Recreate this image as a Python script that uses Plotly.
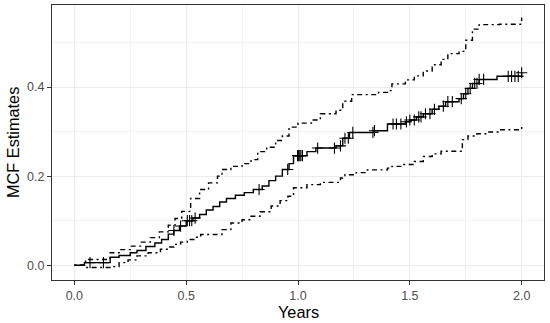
import numpy as np
import plotly.graph_objects as go

# MCF estimate (step function: value from each time onward)
mean_t = [0, 0.045, 0.16, 0.2, 0.25, 0.28, 0.32, 0.36, 0.39, 0.42, 0.445, 0.47, 0.5, 0.53,
          0.56, 0.59, 0.62, 0.65, 0.68, 0.72, 0.76, 0.8, 0.84, 0.87, 0.9, 0.93, 0.96, 0.98,
          1.04, 1.08, 1.17, 1.2, 1.23, 1.34, 1.4, 1.48, 1.5, 1.53, 1.56, 1.6, 1.63, 1.66,
          1.72, 1.74, 1.76, 1.78, 1.81, 1.89, 2.0]
mean_y = [0, 0.006, 0.018, 0.022, 0.028, 0.033, 0.042, 0.05, 0.058, 0.07, 0.078, 0.088, 0.1,
          0.106, 0.114, 0.124, 0.132, 0.142, 0.15, 0.157, 0.163, 0.17, 0.178, 0.19, 0.2, 0.215,
          0.228, 0.246, 0.255, 0.263, 0.268, 0.285, 0.298, 0.302, 0.317, 0.322, 0.326, 0.333,
          0.34, 0.35, 0.357, 0.367, 0.374, 0.385, 0.397, 0.408, 0.417, 0.424, 0.432]

# Upper confidence bound
upper_t = [0, 0.05, 0.16, 0.2, 0.25, 0.3, 0.34, 0.38, 0.42, 0.45, 0.48, 0.52, 0.56, 0.6, 0.64,
           0.66, 0.7, 0.75, 0.79, 0.82, 0.86, 0.9, 0.93, 0.96, 1.0, 1.06, 1.1, 1.17, 1.2, 1.24,
           1.36, 1.4, 1.42, 1.48, 1.52, 1.56, 1.6, 1.64, 1.67, 1.72, 1.75, 1.78, 1.81, 1.9, 2.0]
upper_y = [0, 0.013, 0.028, 0.035, 0.043, 0.052, 0.062, 0.075, 0.09, 0.105, 0.121, 0.15, 0.17,
           0.185, 0.2, 0.215, 0.222, 0.228, 0.237, 0.255, 0.265, 0.28, 0.29, 0.31, 0.319, 0.326,
           0.34, 0.348, 0.368, 0.383, 0.388, 0.392, 0.407, 0.416, 0.425, 0.436, 0.45, 0.462,
           0.475, 0.48, 0.505, 0.53, 0.54, 0.541, 0.556]

# Lower confidence bound
lower_t = [0, 0.05, 0.17, 0.2, 0.24, 0.28, 0.33, 0.385, 0.42, 0.445, 0.475, 0.505, 0.54, 0.565,
           0.66, 0.7, 0.75, 0.79, 0.83, 0.88, 0.92, 0.955, 0.98, 1.04, 1.1, 1.19, 1.21, 1.26,
           1.31, 1.4, 1.42, 1.47, 1.52, 1.56, 1.6, 1.64, 1.735, 1.76, 1.8, 1.84, 1.9, 2.0]
lower_y = [0, -0.005, -0.003, 0.006, 0.012, 0.021, 0.028, 0.036, 0.041, 0.047, 0.052, 0.058,
           0.063, 0.069, 0.08, 0.095, 0.102, 0.11, 0.12, 0.133, 0.145, 0.155, 0.174, 0.181,
           0.186, 0.196, 0.203, 0.208, 0.214, 0.218, 0.222, 0.226, 0.233, 0.244, 0.25, 0.256,
           0.282, 0.29, 0.295, 0.299, 0.304, 0.315]

# Censoring times (marked with +)
censor_t = [0.07, 0.13, 0.445, 0.475, 0.505, 0.515, 0.525, 0.54, 0.826, 0.954, 0.998, 1.003,
            1.008, 1.013, 1.02, 1.088, 1.163, 1.19, 1.21, 1.225, 1.245, 1.335, 1.342, 1.425,
            1.44, 1.46, 1.485, 1.5, 1.52, 1.54, 1.55, 1.57, 1.59, 1.61, 1.65, 1.67, 1.69, 1.73,
            1.75, 1.77, 1.79, 1.8, 1.81, 1.83, 1.94, 1.955, 1.97, 1.985, 2.0]

x_ticks = [0.0, 0.5, 1.0, 1.5, 2.0]
y_ticks = [0.0, 0.2, 0.4]
x_title = "Years"
y_title = "MCF Estimates"

# marker heights read from the step function
mt = np.array(mean_t)
my = np.array(mean_y)
idx = np.searchsorted(mt, np.array(censor_t), side="right") - 1
censor_y = my[idx]

dash_pat = "2px,3.5px,5px,3.5px"
FONT = "Liberation Sans, Arial, sans-serif"

fig = go.Figure()
fig.add_trace(go.Scatter(x=upper_t, y=upper_y, mode="lines", line_shape="hv",
                         line=dict(color="black", width=1.4, dash=dash_pat), showlegend=False))
fig.add_trace(go.Scatter(x=lower_t, y=lower_y, mode="lines", line_shape="hv",
                         line=dict(color="black", width=1.4, dash=dash_pat), showlegend=False))
fig.add_trace(go.Scatter(x=mean_t, y=mean_y, mode="lines", line_shape="hv",
                         line=dict(color="black", width=1.4), showlegend=False))
fig.add_trace(go.Scatter(x=censor_t, y=censor_y, mode="markers",
                         marker=dict(symbol="cross-thin", size=8, color="black",
                                     line=dict(color="black", width=1.1)),
                         showlegend=False))

xmin, xmax = 0.0, 2.0
allv = upper_y + lower_y + mean_y
ymin, ymax = min(allv), max(allv)
xp = 0.05 * (xmax - xmin)
yp = 0.05 * (ymax - ymin)

axis_common = dict(
    showline=True, mirror=True, linecolor="#333333", linewidth=1,
    ticks="outside", ticklen=4, tickwidth=1, tickcolor="#333333",
    showgrid=True, gridcolor="#EBEBEB", gridwidth=1, zeroline=False,
    tickfont=dict(family=FONT, size=12.5, color="#4D4D4D"),
    tickformat=".1f", automargin=False,
)

fig.update_layout(
    width=550, height=323,
    margin=dict(l=52, r=6, t=5, b=43),
    plot_bgcolor="white", paper_bgcolor="white",
    xaxis=dict(range=[xmin - xp, xmax + xp], tickvals=x_ticks,
               minor=dict(dtick=0.25, tick0=0, showgrid=True, gridcolor="#F2F2F2", gridwidth=0.6, ticks=""),
               **axis_common),
    yaxis=dict(range=[ymin - yp, ymax + yp], tickvals=y_ticks,
               minor=dict(dtick=0.1, tick0=0, showgrid=True, gridcolor="#F2F2F2", gridwidth=0.6, ticks=""),
               **axis_common),
    annotations=[
        dict(text=x_title, xref="paper", yref="paper", x=0.5, y=-0.118,
             xanchor="center", yanchor="middle", showarrow=False,
             font=dict(family=FONT, size=16.3, color="black")),
        dict(text=y_title, xref="paper", yref="paper", x=-0.0803, y=0.5,
             xanchor="center", yanchor="middle", showarrow=False, textangle=-90,
             font=dict(family=FONT, size=16.3, color="black")),
    ],
)

fig.write_html("out.html", config={"displayModeBar": False},
               post_script="document.body.style.margin='0';document.body.style.padding='0';"
                           "document.documentElement.style.overflow='hidden';")
